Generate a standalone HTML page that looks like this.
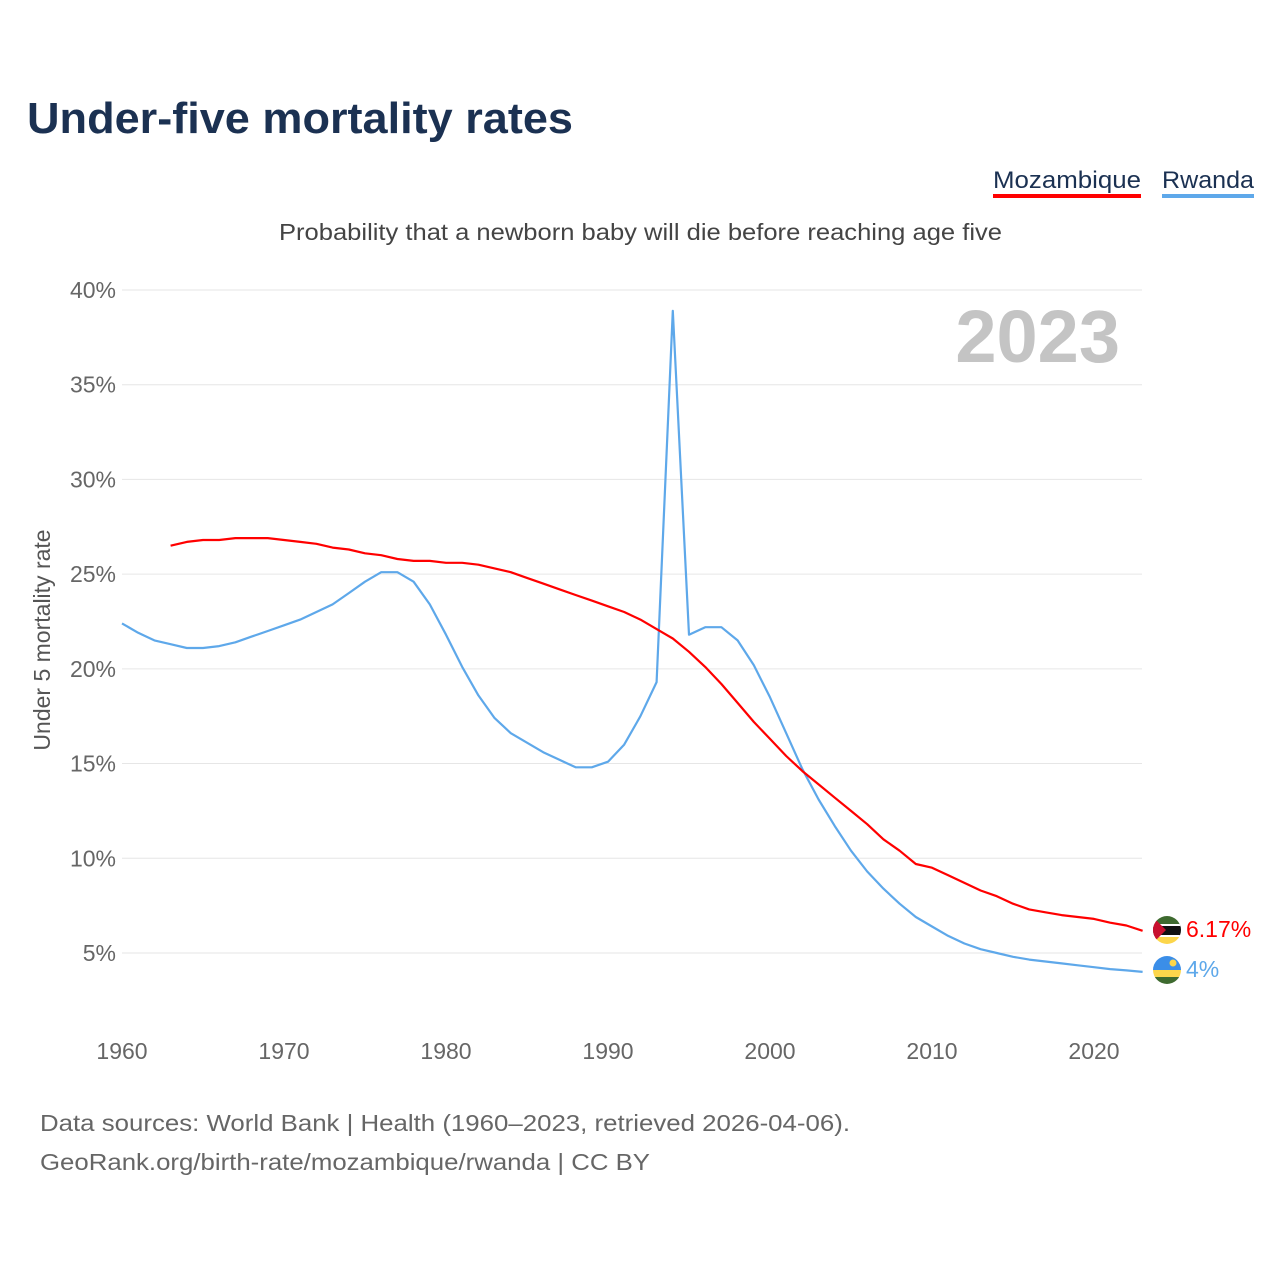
<!DOCTYPE html>
<html><head><meta charset="utf-8"><style>
body{margin:0;background:#fff;font-family:"Liberation Sans",sans-serif;}
#wrap{position:relative;width:1280px;height:1280px;overflow:hidden;}
</style></head><body>
<div id="wrap">
<svg id="chart" width="1280" height="1280" xmlns="http://www.w3.org/2000/svg">
<defs>
<clipPath id="c1"><circle cx="1167" cy="930" r="14"/></clipPath>
<clipPath id="c2"><circle cx="1167" cy="970" r="14"/></clipPath>
</defs>
<text x="27" y="133" font-size="44" font-weight="bold" fill="#1b3152" textLength="546" lengthAdjust="spacingAndGlyphs">Under-five mortality rates</text>
<g><text x="993" y="188" font-size="24" fill="#1b3152" textLength="148" lengthAdjust="spacingAndGlyphs">Mozambique</text><rect x="993" y="194" width="148" height="4" fill="#ff0000"/></g>
<g><text x="1162" y="188" font-size="24" fill="#1b3152" textLength="92" lengthAdjust="spacingAndGlyphs">Rwanda</text><rect x="1162" y="194" width="92" height="4" fill="#5ea8ea"/></g>
<text x="279" y="240" font-size="23" fill="#444" textLength="723" lengthAdjust="spacingAndGlyphs">Probability that a newborn baby will die before reaching age five</text>
<text x="1120" y="362" text-anchor="end" font-size="74" font-weight="bold" fill="#c4c4c4">2023</text>
<text transform="translate(50,640) rotate(-90)" text-anchor="middle" font-size="23" fill="#555">Under 5 mortality rate</text>
<g id="grid"></g><g id="xt"></g><g id="lines"></g>
<text x="1186" y="937" font-size="23" fill="#ff0000">6.17%</text>
<text x="1186" y="977" font-size="23" fill="#5ea8ea">4%</text>
<g clip-path="url(#c1)">
<rect x="1150" y="914" width="34" height="11" fill="#3e6a2f"/><rect x="1150" y="925" width="34" height="11" fill="#111"/><rect x="1150" y="924" width="34" height="2" fill="#fff"/><rect x="1150" y="935" width="34" height="2" fill="#fff"/><rect x="1150" y="937" width="34" height="10" fill="#fcd64b"/><polygon points="1150,914 1166,930 1150,946" fill="#c8102e"/></g>
<g clip-path="url(#c2)">
<rect x="1150" y="954" width="34" height="16" fill="#3b8ee8"/><rect x="1150" y="970" width="34" height="7" fill="#fcd64b"/><rect x="1150" y="977" width="34" height="10" fill="#3e6a2f"/><circle cx="1173" cy="963" r="3.5" fill="#fcd64b"/></g>
<text x="40" y="1131" font-size="23" fill="#666" textLength="810" lengthAdjust="spacingAndGlyphs">Data sources: World Bank | Health (1960–2023, retrieved 2026-04-06).</text>
<text x="40" y="1170" font-size="23" fill="#666" textLength="610" lengthAdjust="spacingAndGlyphs">GeoRank.org/birth-rate/mozambique/rwanda | CC BY</text>
</svg></div>
<script>
const yTicks=[5,10,15,20,25,30,35,40];
const xTicks=[1960,1970,1980,1990,2000,2010,2020];
const mozStart=1963;
const mozValues=[26.5,26.7,26.8,26.8,26.9,26.9,26.9,26.8,26.7,26.6,26.4,26.3,26.1,26.0,25.8,25.7,25.7,25.6,25.6,25.5,25.3,25.1,24.8,24.5,24.2,23.9,23.6,23.3,23.0,22.6,22.1,21.6,20.9,20.1,19.2,18.2,17.2,16.3,15.4,14.6,13.9,13.2,12.5,11.8,11.0,10.4,9.7,9.5,9.1,8.7,8.3,8.0,7.6,7.3,7.15,7.0,6.9,6.8,6.6,6.45,6.17];
const rwaStart=1960;
const rwaValues=[22.4,21.9,21.5,21.3,21.1,21.1,21.2,21.4,21.7,22.0,22.3,22.6,23.0,23.4,24.0,24.6,25.1,25.1,24.6,23.4,21.8,20.1,18.6,17.4,16.6,16.1,15.6,15.2,14.8,14.8,15.1,16.0,17.5,19.3,38.9,21.8,22.2,22.2,21.5,20.2,18.5,16.6,14.7,13.1,11.7,10.4,9.3,8.4,7.6,6.9,6.4,5.9,5.5,5.2,5.0,4.8,4.65,4.55,4.45,4.35,4.25,4.15,4.08,4.0];
const NS='http://www.w3.org/2000/svg';
const x=yr=>122+(yr-1960)*16.2;
const y=v=>1047.7-v*18.943;
const grid=document.getElementById('grid');
yTicks.forEach(t=>{
 const l=document.createElementNS(NS,'line');
 l.setAttribute('x1',122);l.setAttribute('x2',1142);l.setAttribute('y1',y(t));l.setAttribute('y2',y(t));
 l.setAttribute('stroke','#e6e6e6');l.setAttribute('stroke-width','1');
 
 
 grid.appendChild(l);
 const tx=document.createElementNS(NS,'text');
 tx.setAttribute('x',116);tx.setAttribute('y',y(t)+8);tx.setAttribute('text-anchor','end');
 tx.setAttribute('font-size','23');tx.setAttribute('fill','#666');tx.textContent=t+'%';
 
 
 grid.appendChild(tx);
});
const xt=document.getElementById('xt');
xTicks.forEach(t=>{
 const tx=document.createElementNS(NS,'text');
 tx.setAttribute('x',x(t));tx.setAttribute('y',1059);tx.setAttribute('text-anchor','middle');
 tx.setAttribute('font-size','23');tx.setAttribute('fill','#666');tx.textContent=t;
 
 
 xt.appendChild(tx);
});
const lines=document.getElementById('lines');
function draw(start,vals,color,name){
 const p=document.createElementNS(NS,'polyline');
 p.setAttribute('points',vals.map((v,i)=>x(start+i).toFixed(1)+','+y(v).toFixed(1)).join(' '));
 p.setAttribute('fill','none');p.setAttribute('stroke',color);p.setAttribute('stroke-width','2.2');
 p.setAttribute('stroke-linejoin','round');
 
 
 lines.appendChild(p);
}
draw(rwaStart,rwaValues,'#5ea8ea','line-rwanda');
draw(mozStart,mozValues,'#ff0000','line-mozambique');
</script>
</body></html>
